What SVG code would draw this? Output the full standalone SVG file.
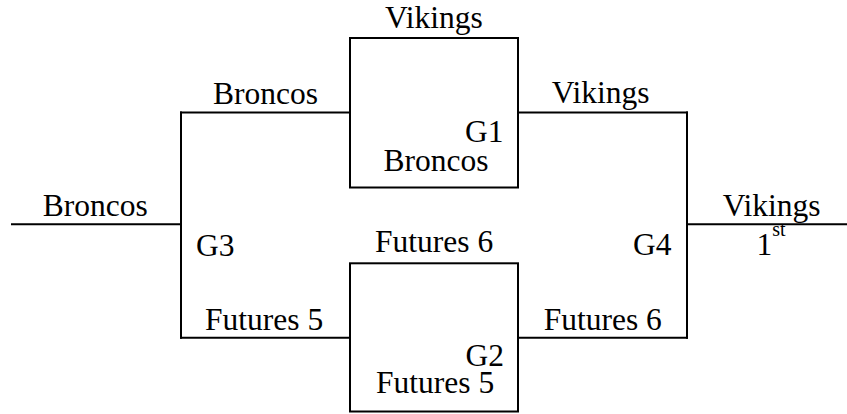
<svg xmlns="http://www.w3.org/2000/svg" width="847" height="414" viewBox="0 0 847 414">
<style>
.l{fill:none;stroke:#000;stroke-width:2;stroke-linecap:square}
.t{font-size:31.5px;fill:#000;font-family:'Liberation Serif','Times New Roman',serif}
.sup{font-size:20px}
</style>
<rect width="847" height="414" fill="#fff"/>
<g id="connectors">
<path class="l" d="M12 224.3H181"/>
<path class="l" d="M687 224.3H846"/>
<path class="l" d="M181 112.5H350"/>
<path class="l" d="M181 337.7H350"/>
<path class="l" d="M518 112.5H687"/>
<path class="l" d="M518 337.7H687"/>
</g>
<g class="t">
<g id="G1">
<rect class="l" x="350" y="38" width="168" height="149.5"/>
<text x="385" y="28.3">Vikings</text>
<text x="465" y="141.7">G1</text>
<text x="383.5" y="171">Broncos</text>
</g>
<g id="G2">
<rect class="l" x="350" y="263.3" width="168" height="148.2"/>
<text x="375" y="251.7">Futures 6</text>
<text x="465.5" y="366">G2</text>
<text x="376" y="393.3">Futures 5</text>
</g>
<g id="G3">
<path class="l" d="M181 112.5V337.7"/>
<text x="213" y="104">Broncos</text>
<text x="196" y="256">G3</text>
<text x="205" y="329.7">Futures 5</text>
<text x="42.7" y="215.7">Broncos</text>
</g>
<g id="G4">
<path class="l" d="M687 112.5V337.7"/>
<text x="551.7" y="102.7">Vikings</text>
<text x="633" y="255">G4</text>
<text x="543.7" y="329.7">Futures 6</text>
<text x="722.7" y="216">Vikings</text>
<text x="756.5" y="255">1<tspan class="sup" dy="-19">st</tspan></text>
</g>
</g>
</svg>
